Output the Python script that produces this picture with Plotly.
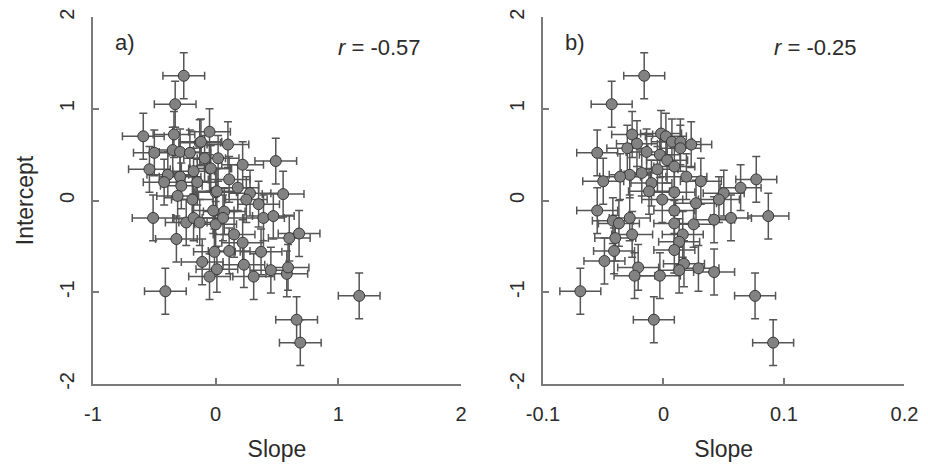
import plotly.graph_objects as go

# -----------------------------
# data
# -----------------------------
# panel a) slope vs intercept
slope_a = [-0.26, -0.33, -0.59, -0.34, -0.05, 0.10, -0.13, -0.50, -0.35, -0.29,
           -0.21, -0.09, 0.02, 0.22, 0.49, -0.54, -0.39, -0.42, -0.29, -0.18,
           -0.05, -0.28, -0.15, 0.11, 0.18, 0.00, 0.28, 0.55, -0.31, -0.19,
           0.25, 0.35, -0.02, 0.07, -0.51, -0.24, -0.18, -0.13, 0.00, 0.06,
           0.39, 0.47, -0.32, 0.15, 0.22, 0.60, 0.68, -0.01, 0.11, 0.37,
           -0.11, 0.01, -0.05, 0.23, 0.31, 0.45, 0.58, 0.59, -0.41, 1.17,
           0.66, 0.69, -0.12, -0.04, 0.01]
intercept_a = [1.36, 1.05, 0.70, 0.72, 0.75, 0.61, 0.63, 0.52, 0.55, 0.53,
               0.52, 0.46, 0.46, 0.39, 0.43, 0.34, 0.28, 0.20, 0.26, 0.32,
               0.35, 0.16, 0.20, 0.23, 0.14, 0.09, 0.08, 0.07, 0.05, 0.01,
               0.01, -0.04, -0.11, -0.12, -0.19, -0.24, -0.19, -0.24, -0.26, -0.19,
               -0.19, -0.17, -0.42, -0.37, -0.46, -0.41, -0.36, -0.56, -0.55, -0.56,
               -0.67, -0.75, -0.83, -0.70, -0.83, -0.76, -0.80, -0.73, -0.99, -1.04,
               -1.30, -1.55, 0.64, 0.35, 0.10]

# panel b) slope vs intercept
slope_b = [-0.016, -0.043, -0.055, -0.026, -0.022, -0.030, -0.014, -0.002, 0.002, 0.007,
           0.014, 0.023, 0.014, -0.003, 0.003, 0.009, -0.005, -0.018, -0.028, -0.036,
           -0.050, 0.019, 0.031, 0.077, 0.064, -0.010, -0.012, 0.009, -0.001, 0.050,
           0.046, 0.027, -0.055, 0.009, -0.042, -0.028, -0.037, 0.009, 0.025, 0.042,
           0.056, 0.087, -0.026, -0.040, 0.016, 0.013, -0.041, 0.009, -0.049, -0.021,
           0.017, 0.013, 0.029, 0.042, -0.024, -0.003, -0.069, 0.076, -0.008, 0.091]
intercept_b = [1.36, 1.05, 0.52, 0.72, 0.62, 0.57, 0.53, 0.73, 0.70, 0.64,
               0.64, 0.61, 0.57, 0.50, 0.44, 0.37, 0.34, 0.30, 0.28, 0.26,
               0.21, 0.26, 0.21, 0.23, 0.14, 0.19, 0.10, 0.09, 0.01, 0.08,
               0.01, -0.03, -0.11, -0.11, -0.22, -0.19, -0.25, -0.25, -0.26, -0.21,
               -0.19, -0.17, -0.37, -0.41, -0.37, -0.45, -0.55, -0.54, -0.66, -0.73,
               -0.69, -0.76, -0.74, -0.78, -0.82, -0.82, -0.99, -1.04, -1.30, -1.55]

err_slope_a = 0.17
err_slope_b = 0.017
err_intercept = 0.25

# tick labels (plain hyphen minus, as in the original)
ticks_x_a = [-1, 0, 1, 2]
labels_x_a = ["-1", "0", "1", "2"]
ticks_x_b = [-0.1, 0, 0.1, 0.2]
labels_x_b = ["-0.1", "0", "0.1", "0.2"]
ticks_y = [-2, -1, 0, 1, 2]
labels_y = ["-2", "-1", "0", "1", "2"]

r_values = ["-0.57", "-0.25"]
panel_labels = ["a)", "b)"]

# -----------------------------
# figure
# -----------------------------
# page body adds an 8px margin, so the figure is 16px smaller than the window
W, H = 912, 454
font = "Liberation Sans, Arial, sans-serif"
txt = "#2b2b2b"
axcol = "#7a7a7a"

fig = go.Figure()

def add_panel(xs, ys, ex, xref, yref):
    fig.add_trace(go.Scatter(
        x=xs, y=ys, mode="markers", xaxis=xref, yaxis=yref,
        marker=dict(size=11, color="#828282", line=dict(color="#383838", width=1)),
        error_x=dict(type="constant", value=ex, color="#555555", thickness=1.5, width=4),
        error_y=dict(type="constant", value=err_intercept, color="#555555", thickness=1.5, width=4),
        showlegend=False,
    ))

add_panel(slope_a, intercept_a, err_slope_a, "x", "y")
add_panel(slope_b, intercept_b, err_slope_b, "x2", "y2")

axis_common = dict(
    showgrid=False, zeroline=False, showline=True, linecolor=axcol, linewidth=1.5,
    ticks="inside", ticklen=6, tickcolor=axcol, tickwidth=1.5, automargin=False,
    ticklabeloverflow="allow",
    tickfont=dict(family=font, size=20, color=txt),
)

ydom = [0.172, 0.980]
fig.update_layout(
    width=W, height=H,
    margin=dict(l=0, r=0, t=0, b=0),
    paper_bgcolor="white", plot_bgcolor="white",
    font=dict(family=font, color=txt),
    xaxis=dict(axis_common, domain=[0.0932, 0.4967], range=[-1, 2],
               tickvals=ticks_x_a, ticktext=labels_x_a, anchor="y", ticklabelstandoff=11,
               title=dict(text="Slope", font=dict(size=23), standoff=28)),
    yaxis=dict(axis_common, domain=ydom, range=[-2, 2],
               tickvals=ticks_y, ticktext=labels_y, anchor="x", tickangle=-90,
               ticklabelstandoff=9,
               title=dict(text="Intercept", font=dict(size=23), standoff=16)),
    xaxis2=dict(axis_common, domain=[0.5866, 0.9830], range=[-0.1, 0.2],
                tickvals=ticks_x_b, ticktext=labels_x_b, anchor="y2", ticklabelstandoff=11,
                title=dict(text="Slope", font=dict(size=23), standoff=28)),
    yaxis2=dict(axis_common, domain=ydom, range=[-2, 2],
                tickvals=ticks_y, ticktext=labels_y, anchor="x2", tickangle=-90,
                ticklabelstandoff=9),
)

# panel letters and correlation coefficients
for lab, r, xl, xr in zip(panel_labels, r_values, [0.115, 0.6086], [0.407, 0.885]):
    fig.add_annotation(text=lab, x=xl, y=0.923, xref="paper", yref="paper",
                       xanchor="left", yanchor="middle", showarrow=False,
                       font=dict(family=font, size=22, color=txt))
    fig.add_annotation(text="<i>r</i> = " + r, x=xr, y=0.912, xref="paper", yref="paper",
                       xanchor="center", yanchor="middle", showarrow=False,
                       font=dict(family=font, size=22, color=txt))

fig.write_html("out.html")
